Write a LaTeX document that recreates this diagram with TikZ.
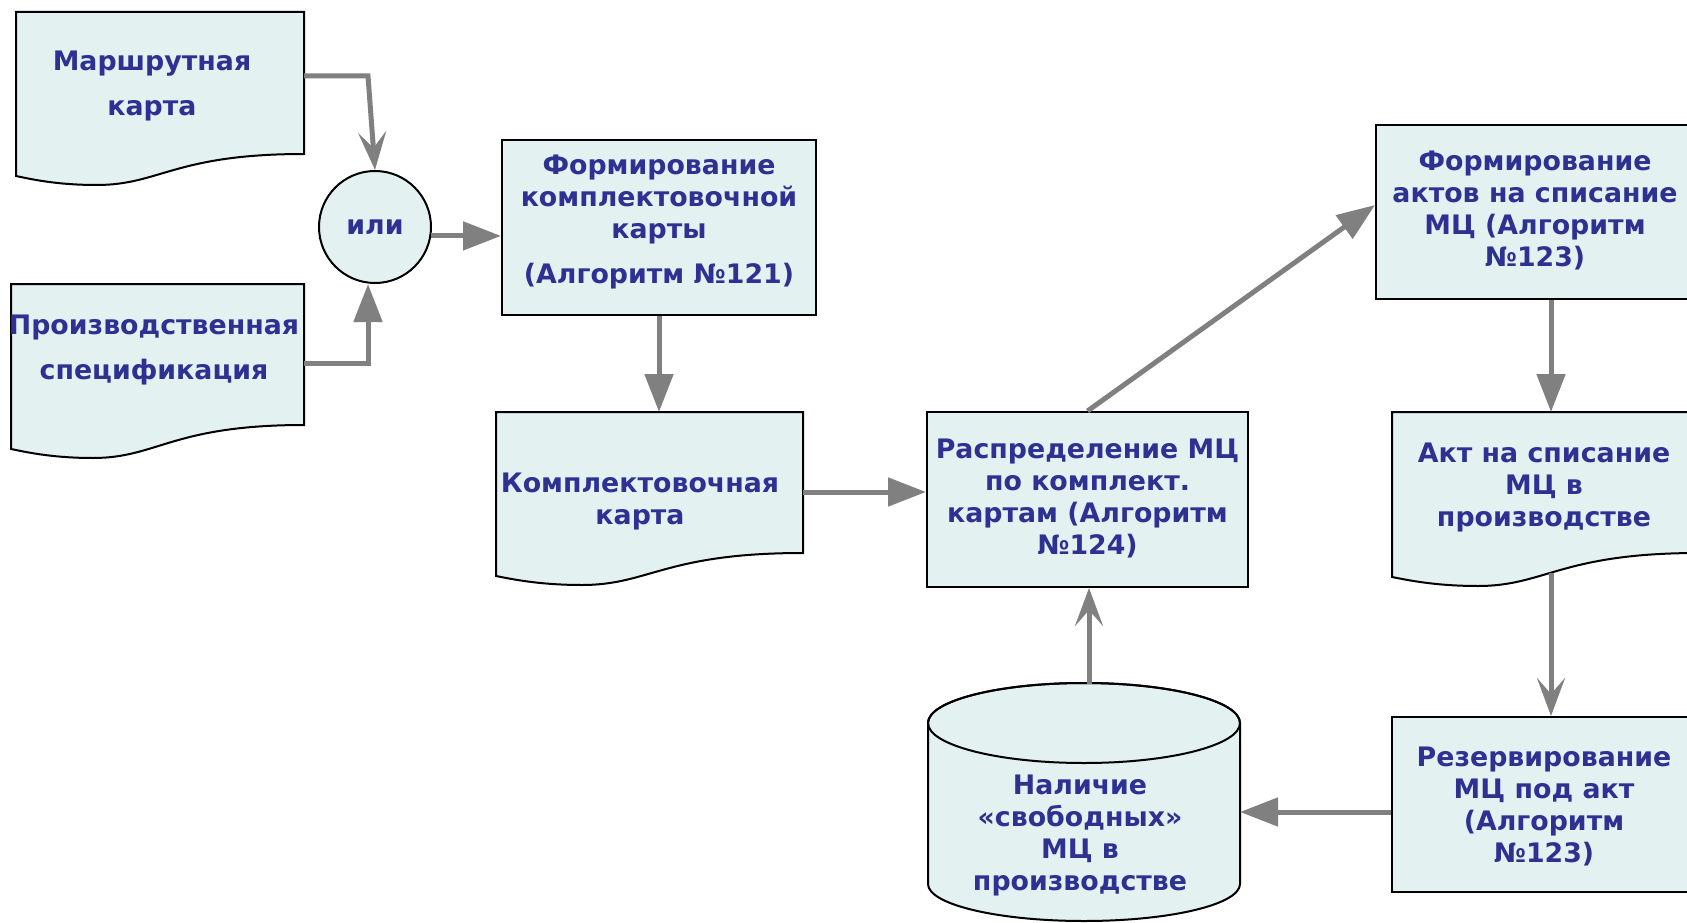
\documentclass[tikz,border=0pt]{standalone}
\usepackage{fontspec}
\setmainfont{DejaVu Sans}
\usetikzlibrary{arrows.meta}
\definecolor{txt}{HTML}{2E3192}
\definecolor{fillc}{HTML}{E3F1F1}
\definecolor{arr}{HTML}{808080}
\tikzset{
  lbl/.style={text=txt, font=\bfseries\fontsize{26.8}{32}\selectfont, align=center, inner sep=0pt},
  lblwide/.style={lbl, font=\bfseries\fontsize{26.8}{45}\selectfont},
  boxn/.style={draw=black, line width=2pt, fill=fillc, inner sep=0pt},
  shp/.style={draw=black, line width=2pt, fill=fillc},
  con/.style={draw=arr, line width=5pt, -{Triangle[length=38pt,width=28pt]}},
  cons/.style={draw=arr, line width=5pt, -{Stealth[length=38pt,width=28pt,inset=16pt]}},
}
% document shape: x1, x2, ytop, yright, yleft
\newcommand\mydocshape[5]{%
  \path[shp] (#1,#3) -- (#2,#3) -- (#2,#4)
    .. controls ({#1+0.55*(#2-#1)},#4) and ({#1+0.5*(#2-#1)},{#5+9}) .. ({#1+0.28*(#2-#1)},{#5+9})
    .. controls ({#1+0.14*(#2-#1)},{#5+9}) and ({#1+0.05*(#2-#1)},{#5+3}) .. (#1,#5) -- cycle;}
\begin{document}
\begin{tikzpicture}[x=1pt,y=-1pt]
\useasboundingbox (0,0) rectangle (1687,923);

% documents
\mydocshape{16}{304}{12}{154}{176}
\mydocshape{11}{304}{284}{425}{449}
\mydocshape{496}{803}{412}{553}{576}
\mydocshape{1392}{1699}{412}{553}{577}

\node[lblwide] (M) at (152,86.5) {Маршрутная\\карта};
\node[lblwide] (P) at (154,350.5) {Производственная\\спецификация};
\node[lbl] (K) at (640,502) {Комплектовочная\\карта};
\node[lbl] (A) at (1544,488) {Акт на списание\\МЦ в\\производстве};

% circle
\node[lbl, circle, draw=black, line width=2pt, fill=fillc, minimum size=112pt] (ili) at (375,227) {или};

% process boxes
\node[boxn, minimum width=314pt, minimum height=175pt] (F1) at (659,227.5) {};
\node[lbl] (F1t) at (659,222) {Формирование\\комплектовочной\\карты\\[13pt](Алгоритм №121)};
\node[boxn, minimum width=321pt, minimum height=175pt] (R) at (1087.5,499.5) {};
\node[lbl] (Rt) at (1087.5,498.5) {Распределение МЦ\\по комплект.\\картам (Алгоритм\\№124)};
\node[boxn, minimum width=318pt, minimum height=174pt] (F2) at (1535,212) {};
\node[lbl] (F2t) at (1535,210) {Формирование\\актов на списание\\МЦ (Алгоритм\\№123)};
\node[boxn, minimum width=304pt, minimum height=175pt] (Z) at (1544,804.5) {};
\node[lbl] (Zt) at (1544,806.5) {Резервирование\\МЦ под акт\\(Алгоритм\\№123)};

% cylinder
\path[shp] (928,723) -- (928,884)
  arc[start angle=180, end angle=360, x radius=156pt, y radius=37pt]
  -- (1240,723)
  arc[start angle=0, end angle=180, x radius=156pt, y radius=40pt] -- cycle;
\draw[black, line width=2pt] (1084,723) ellipse [x radius=156pt, y radius=40pt];
\node[lbl] (C) at (1080,836) {Наличие\\«свободных»\\МЦ в\\производстве};

% ports
\coordinate (mout) at (304,76);
\coordinate (mbend) at (368,76);
\coordinate (pout) at (304,363);
\coordinate (ktop) at (649,412);
\coordinate (kout) at (803,492);
\coordinate (atop) at (1551,412);
\coordinate (aout) at (1551,573);
\coordinate (cright) at (1240,812);
\coordinate (ctop) at (1089,684);

% connectors
\draw[cons] (mout) -- (mbend) -- (ili.north);
\draw[con] (pout) -| ([xshift=-7pt]ili.south);
\draw[con] (ili.-9) -- (F1.west |- ili.-9);
\draw[con] (F1.south) -- (F1.south |- ktop);
\draw[con] (kout) -- (kout -| R.west);
\draw[con] (R.north) -- ([yshift=7pt]F2.west);
\draw[con] (F2.south -| atop) -- (atop);
\draw[cons] (aout) -- (aout |- Z.north);
\draw[con] ([yshift=-7.5pt]Z.west) -- (cright);
\draw[cons] (ctop) -- (ctop |- R.south);
\end{tikzpicture}
\end{document}
